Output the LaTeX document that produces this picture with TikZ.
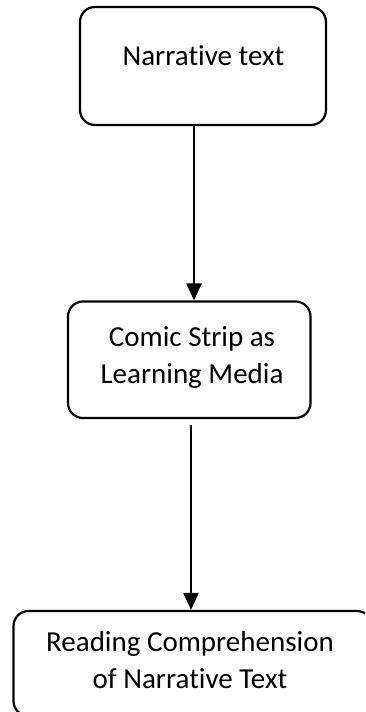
\documentclass[tikz,border=0pt]{standalone}
\usepackage{fontspec}
\setmainfont{Carlito}[Ligatures=NoCommon]
\usetikzlibrary{arrows.meta}

\tikzset{
  flowbox/.style={draw=black, line width=2.2pt, rounded corners=15pt, fill=none},
  boxtext/.style={align=center, inner sep=0pt,
    font=\fontsize{29}{37}\selectfont},
  flowarrow/.style={draw=black, line width=2.6pt,
    -{Triangle[length=17pt,width=15pt]}},
}

\begin{document}
\begin{tikzpicture}[x=1pt, y=-1pt]
  \useasboundingbox (0,0) rectangle (365,712);
  \fill[white] (0,0) rectangle (365,712);
  \clip (0,0) rectangle (365,712);

  % boxes
  \node[flowbox, minimum width=246pt, minimum height=118pt] (b1) at (203,66) {};
  \node[flowbox, minimum width=242.5pt, minimum height=116.5pt] (b2) at (189.25,359.75) {};
  \node[flowbox, minimum width=358.5pt, minimum height=105pt] (b3) at (192.75,663.5) {};

  % labels
  \node[boxtext] (t1) at (203.5,56) {Narrative text};
  \node[boxtext] (t2) at (192,358) {Comic Strip as\\Learning Media};
  \node[boxtext] (t3) at (190,660) {Reading Comprehension\\of Narrative Text};

  % connectors
  \coordinate (a1x) at (194,0);
  \coordinate (a2s) at (191,425);
  \draw[flowarrow] (b1.south -| a1x) -- (b2.north -| a1x);
  \draw[flowarrow] (a2s) -- (a2s |- b3.north);
\end{tikzpicture}
\end{document}
